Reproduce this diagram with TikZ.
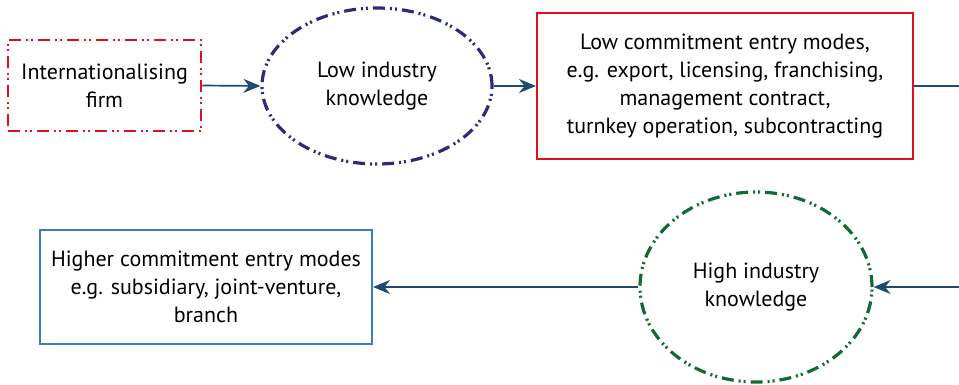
\documentclass[tikz,border=0pt]{standalone}
\usepackage{fontspec}
\setmainfont{PT Sans}
\usetikzlibrary{shapes.geometric,arrows.meta}
\definecolor{boxred}{HTML}{E0101E}
\definecolor{navyline}{HTML}{2D2A7C}
\definecolor{darkgreen}{HTML}{0E6B35}
\definecolor{flowblue}{HTML}{1F4A6E}
\definecolor{boxblue}{HTML}{3A7EC2}
\tikzset{
  txt/.style={align=center, font=\fontsize{22}{28}\selectfont, text=black},
  dashdotdot/.style={dash pattern=on 12pt off 5pt on 2pt off 3pt on 2pt off 5pt},
  redbox/.style={txt, draw=boxred, line width=2pt, rectangle, inner sep=0pt},
  blob/.style={txt, ellipse, line width=3.2pt, dashdotdot, inner sep=0pt},
  flow/.style={draw=flowblue, line width=1.7pt, -{Stealth[length=17pt,width=14pt]}}
}
\begin{document}
\begin{tikzpicture}[x=1pt,y=-1pt]
\path[use as bounding box] (0,0) rectangle (959,384);
\clip (0,0) rectangle (959,384);

% starting firm
\node[redbox, line width=2.5pt, dashdotdot, minimum width=193pt, minimum height=91pt]
  (firm) at (104.5,85.5) {Internationalising\\firm};

% knowledge stages
\node[blob, draw=navyline, minimum width=230pt, minimum height=156pt]
  (low) at (377,86) {Low industry\\knowledge};
\node[blob, draw=darkgreen, minimum width=232pt, minimum height=190pt]
  (high) at (756,287) {High industry\\knowledge};

% entry modes
\node[redbox, minimum width=376pt, minimum height=146pt]
  (lowmodes) at (725,86) {Low commitment entry modes,\\e.g. export, licensing, franchising,\\management contract,\\turnkey operation, subcontracting};
\node[txt, draw=boxblue, line width=2pt, rectangle, inner sep=0pt,
      minimum width=332pt, minimum height=114pt]
  (highmodes) at (206,287) {Higher commitment entry modes\\e.g. subsidiary, joint-venture,\\branch};

% connectors
\coordinate (turnA) at (990,86);
\coordinate (turnB) at (990,287);
\draw[flow] (firm.east) -- (low.west);
\draw[flow] (low.east) -- (lowmodes.west);
\draw[flow] (lowmodes.east) -- (turnA) -- (turnB) -- (high.east);
\draw[flow] (high.west) -- (highmodes.east);
\end{tikzpicture}
\end{document}
